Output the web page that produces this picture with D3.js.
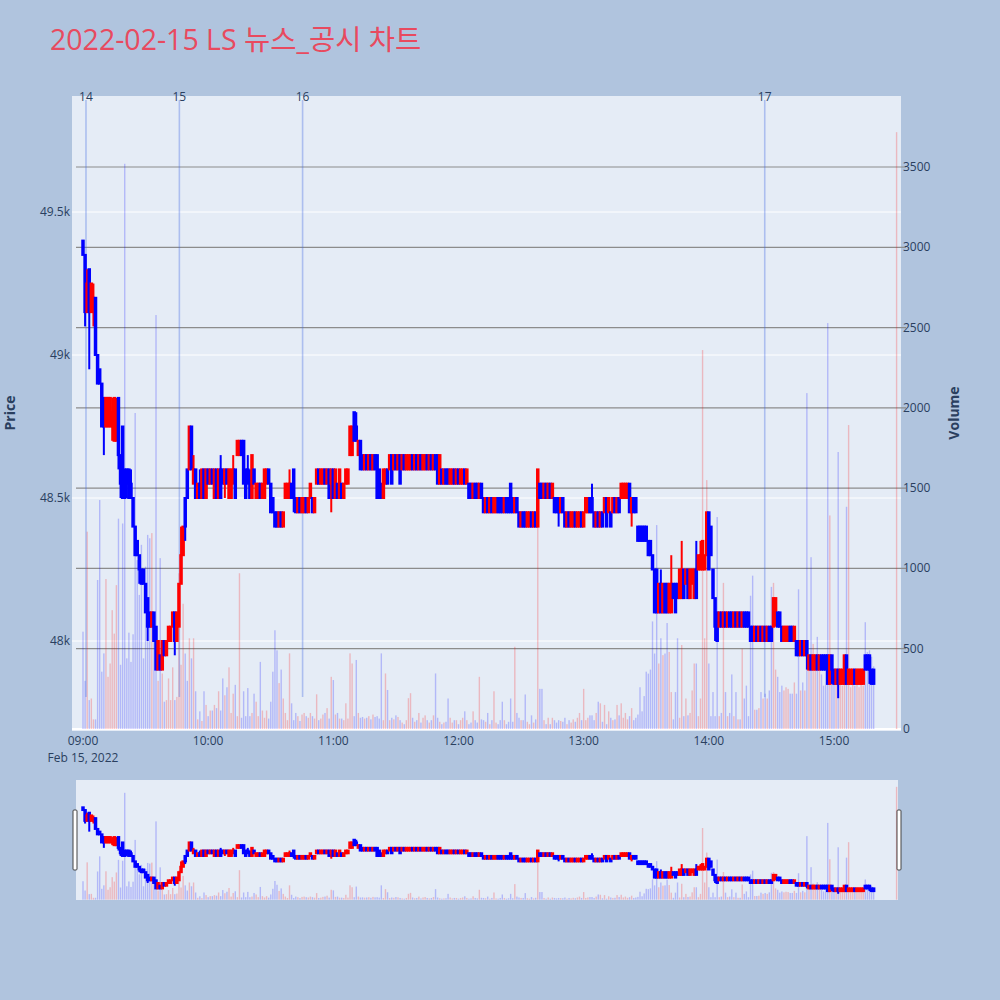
<!DOCTYPE html>
<html><head><meta charset="utf-8">
<script src="https://cdn.jsdelivr.net/npm/d3@7"></script>
<style>
body{margin:0;background:#b0c4de;}
svg{display:block;font-family:"Open Sans","Noto Sans CJK KR",sans-serif;}
</style></head>
<body><svg id="chart" width="1000" height="1000"></svg>
<script>
// ---------------- DATA ----------------
const titleText = "2022-02-15 LS 뉴스_공시 차트";
const sessionStart = "09:00:00";           // one candle per minute from here
// [open, high, low, close] per minute, 09:00 .. 15:19
const ohlc = [
/*0*/ [49400,49400,49350,49350],[49350,49350,49100,49150],[49150,49300,49150,49250],[49300,49300,48950,49150],[49150,49250,49150,49250],
[49150,49250,49100,49200],[49200,49200,49000,49000],[49000,49000,48900,48900],[48950,48950,48900,48900],[48900,48900,48750,48750],
/*10*/ [48850,48850,48650,48750],[48750,48850,48750,48850],[48750,48850,48750,48850],[48750,48850,48750,48850],[48750,48850,48700,48800],
[48700,48850,48700,48850],[48700,48850,48700,48800],[48850,48850,48600,48650],[48650,48650,48500,48550],[48750,48750,48500,48500],
/*20*/ [48600,48600,48500,48500],[48600,48600,48500,48550],[48600,48600,48500,48500],[48550,48600,48500,48500],[48500,48500,48400,48400],
[48400,48400,48300,48300],[48350,48350,48300,48300],[48300,48300,48200,48250],[48250,48250,48200,48200],[48250,48250,48200,48200],
/*30*/ [48200,48200,48100,48100],[48150,48150,48000,48050],[48100,48100,48050,48050],[48050,48100,48050,48100],[48100,48100,48000,48000],
[48050,48050,47900,47900],[47900,48000,47900,48000],[47950,47950,47900,47900],[47900,48000,47900,48000],[48000,48000,47950,47950],
/*40*/ [47950,48000,47950,48000],[48000,48050,48000,48050],[48000,48050,48000,48050],[48050,48100,48050,48100],[48100,48100,47950,48000],
[48000,48100,48000,48100],[48050,48200,48050,48200],[48200,48400,48200,48300],[48300,48400,48300,48400],[48500,48500,48350,48400],
/*50*/ [48600,48600,48500,48500],[48600,48750,48600,48750],[48750,48750,48600,48600],[48550,48650,48550,48600],[48600,48600,48500,48500],
[48500,48550,48500,48550],[48550,48600,48500,48500],[48500,48600,48500,48600],[48600,48600,48500,48500],[48500,48600,48500,48600],
/*60*/ [48600,48600,48550,48550],[48550,48600,48550,48600],[48600,48600,48550,48550],[48500,48600,48500,48600],[48600,48600,48500,48500],
[48500,48600,48500,48600],[48600,48650,48500,48500],[48600,48600,48550,48550],[48550,48600,48500,48600],[48600,48600,48550,48550],
/*70*/ [48500,48600,48500,48600],[48500,48600,48500,48600],[48550,48650,48550,48600],[48600,48600,48500,48500],[48650,48700,48650,48700],
[48650,48700,48650,48700],[48700,48700,48650,48650],[48700,48700,48550,48550],[48600,48600,48500,48500],[48600,48650,48550,48550],
/*80*/ [48550,48600,48500,48500],[48500,48650,48500,48650],[48600,48600,48550,48550],[48500,48550,48500,48550],[48500,48550,48500,48550],
[48550,48550,48500,48500],[48500,48550,48500,48550],[48500,48600,48500,48600],[48550,48600,48550,48600],[48600,48600,48550,48550],
/*90*/ [48550,48550,48450,48450],[48500,48500,48450,48450],[48450,48450,48400,48400],[48450,48450,48400,48400],[48400,48450,48400,48450],
[48450,48450,48400,48400],[48400,48450,48400,48450],[48500,48550,48500,48550],[48500,48550,48500,48550],[48500,48600,48500,48550],
/*100*/ [48550,48550,48500,48500],[48600,48600,48450,48500],[48500,48500,48450,48450],[48450,48500,48450,48500],[48500,48500,48450,48450],
[48450,48500,48450,48500],[48450,48500,48450,48500],[48500,48500,48450,48450],[48450,48500,48450,48500],[48500,48550,48500,48550],
/*110*/ [48500,48500,48450,48450],[48450,48500,48450,48500],[48550,48600,48550,48600],[48600,48600,48550,48550],[48550,48600,48550,48600],
[48550,48600,48550,48600],[48600,48600,48550,48550],[48550,48600,48550,48600],[48600,48600,48500,48500],[48550,48600,48450,48600],
/*120*/ [48600,48600,48500,48500],[48500,48600,48500,48600],[48550,48550,48500,48500],[48500,48600,48500,48600],[48550,48550,48500,48500],
[48500,48550,48500,48550],[48550,48600,48550,48600],[48550,48600,48550,48600],[48650,48750,48650,48750],[48650,48750,48650,48750],
/*130*/ [48800,48800,48700,48700],[48750,48800,48700,48700],[48650,48700,48650,48700],[48700,48700,48600,48600],[48650,48650,48600,48600],
[48600,48650,48600,48650],[48650,48650,48600,48600],[48600,48650,48600,48650],[48650,48650,48600,48600],[48600,48650,48600,48650],
/*140*/ [48650,48650,48600,48600],[48650,48650,48500,48500],[48600,48600,48500,48500],[48550,48550,48500,48500],[48500,48600,48500,48600],
[48550,48600,48550,48600],[48600,48600,48550,48550],[48600,48650,48600,48650],[48650,48650,48550,48550],[48600,48650,48600,48650],
/*150*/ [48650,48650,48600,48600],[48600,48650,48600,48650],[48650,48650,48550,48550],[48600,48650,48600,48650],[48650,48650,48600,48600],
[48600,48650,48600,48650],[48600,48650,48600,48650],[48600,48650,48600,48650],[48650,48650,48600,48600],[48600,48650,48600,48650],
/*160*/ [48650,48650,48600,48600],[48600,48650,48600,48650],[48650,48650,48600,48600],[48600,48650,48600,48650],[48600,48650,48600,48650],
[48650,48650,48600,48600],[48600,48650,48600,48650],[48650,48650,48600,48600],[48600,48650,48600,48650],[48650,48650,48600,48600],
/*170*/ [48650,48650,48550,48550],[48550,48650,48550,48650],[48600,48600,48550,48550],[48550,48600,48550,48600],[48600,48600,48550,48550],
[48600,48600,48550,48550],[48550,48600,48550,48600],[48550,48600,48550,48600],[48600,48600,48550,48550],[48550,48600,48550,48600],
/*180*/ [48600,48600,48550,48550],[48550,48600,48550,48600],[48550,48600,48550,48600],[48600,48600,48550,48550],[48550,48600,48550,48600],
[48550,48550,48500,48500],[48550,48550,48500,48500],[48500,48550,48500,48550],[48550,48550,48500,48500],[48550,48550,48500,48500],
/*190*/ [48500,48550,48500,48550],[48550,48550,48500,48500],[48500,48500,48450,48450],[48450,48500,48450,48500],[48500,48500,48450,48450],
[48450,48500,48450,48500],[48500,48500,48450,48450],[48450,48500,48450,48500],[48450,48500,48450,48500],[48500,48500,48450,48450],
/*200*/ [48500,48500,48450,48450],[48500,48500,48450,48450],[48450,48500,48450,48500],[48500,48500,48450,48450],[48500,48500,48450,48450],
[48550,48550,48450,48450],[48500,48500,48450,48450],[48450,48500,48450,48500],[48500,48500,48450,48450],[48450,48450,48400,48400],
/*210*/ [48400,48450,48400,48450],[48450,48450,48400,48400],[48450,48450,48400,48400],[48400,48450,48400,48450],[48400,48450,48400,48450],
[48450,48450,48400,48400],[48400,48450,48400,48450],[48450,48450,48400,48400],[48400,48600,48400,48600],[48550,48550,48500,48500],
/*220*/ [48550,48550,48500,48500],[48500,48550,48500,48550],[48550,48550,48500,48500],[48500,48550,48500,48550],[48550,48550,48500,48500],
[48500,48550,48500,48550],[48500,48500,48450,48450],[48500,48500,48450,48450],[48500,48500,48400,48450],[48450,48500,48450,48500],
/*230*/ [48500,48500,48450,48450],[48450,48450,48400,48400],[48400,48450,48400,48450],[48450,48450,48400,48400],[48400,48450,48400,48450],
[48400,48450,48400,48450],[48450,48450,48400,48400],[48400,48450,48400,48450],[48400,48450,48400,48450],[48450,48450,48400,48400],
/*240*/ [48400,48450,48400,48450],[48450,48500,48450,48500],[48450,48500,48450,48500],[48500,48500,48450,48450],[48500,48550,48450,48450],
[48450,48450,48400,48400],[48400,48450,48400,48450],[48450,48450,48400,48400],[48400,48450,48400,48450],[48450,48450,48400,48400],
/*250*/ [48450,48500,48450,48500],[48500,48500,48400,48400],[48450,48500,48450,48500],[48450,48450,48400,48400],[48450,48500,48450,48500],
[48500,48500,48450,48450],[48450,48500,48450,48500],[48500,48500,48450,48450],[48500,48550,48500,48550],[48500,48550,48500,48550],
/*260*/ [48500,48550,48500,48550],[48500,48550,48500,48550],[48550,48550,48450,48450],[48450,48500,48400,48500],[48500,48500,48450,48450],
[48500,48500,48450,48450],[48400,48400,48350,48350],[48400,48400,48350,48350],[48400,48400,48350,48350],[48400,48400,48350,48350],
/*270*/ [48400,48400,48350,48350],[48350,48350,48300,48300],[48350,48350,48300,48300],[48300,48300,48250,48250],[48250,48250,48100,48100],
[48250,48250,48100,48100],[48100,48200,48100,48200],[48200,48250,48100,48100],[48100,48200,48100,48200],[48200,48200,48100,48100],
/*280*/ [48200,48200,48100,48100],[48100,48200,48100,48200],[48100,48300,48100,48200],[48200,48200,48150,48150],[48200,48200,48100,48100],
[48200,48200,48150,48150],[48150,48250,48150,48250],[48150,48350,48150,48250],[48250,48250,48150,48150],[48200,48250,48200,48250],
/*290*/ [48250,48250,48150,48150],[48150,48250,48150,48250],[48200,48250,48200,48250],[48150,48250,48150,48250],[48250,48350,48150,48150],
[48250,48300,48250,48300],[48250,48350,48250,48300],[48250,48350,48250,48350],[48250,48300,48250,48300],[48300,48450,48300,48450],
/*300*/ [48450,48450,48250,48250],[48400,48400,48300,48300],[48250,48250,48150,48150],[48150,48150,48000,48050],[48100,48100,48000,48000],
[48050,48100,48050,48100],[48100,48100,48050,48050],[48050,48100,48050,48100],[48100,48100,48050,48050],[48050,48100,48050,48100],
/*310*/ [48100,48100,48050,48050],[48100,48100,48050,48050],[48050,48100,48050,48100],[48100,48100,48050,48050],[48050,48100,48050,48100],
[48100,48100,48050,48050],[48050,48100,48050,48100],[48100,48100,48050,48050],[48100,48100,48050,48050],[48100,48100,48050,48050],
/*320*/ [48050,48050,48000,48000],[48050,48050,48000,48000],[48000,48050,48000,48050],[48050,48050,48000,48000],[48000,48050,48000,48050],
[48050,48050,48000,48000],[48000,48050,48000,48050],[48050,48050,48000,48000],[48000,48050,48000,48050],[48050,48050,48000,48000],
/*330*/ [48050,48050,48000,48000],[48050,48150,48050,48150],[48100,48150,48050,48150],[48100,48100,48050,48050],[48100,48100,48050,48050],
[48050,48050,48000,48000],[48000,48050,48000,48050],[48000,48050,48000,48050],[48000,48050,48000,48050],[48050,48050,48000,48000],
/*340*/ [48050,48050,48000,48000],[48000,48050,48000,48050],[48000,48000,47950,47950],[48000,48000,47950,47950],[47950,48000,47950,48000],
[48000,48000,47950,47950],[47950,48000,47950,48000],[48000,48000,47900,47950],[47900,47950,47900,47950],[47950,47950,47900,47900],
/*350*/ [47900,47950,47900,47950],[47900,47950,47900,47950],[47950,47950,47900,47900],[47900,47950,47900,47950],[47950,47950,47900,47900],
[47950,47950,47900,47900],[47950,47950,47900,47900],[47950,47950,47850,47850],[47850,47950,47850,47950],[47950,47950,47850,47900],
/*360*/ [47900,47900,47850,47850],[47850,47900,47850,47900],[47900,47900,47800,47850],[47850,47900,47850,47900],[47850,47900,47850,47900],
[47850,47950,47850,47950],[47950,47950,47850,47850],[47850,47900,47850,47900],[47850,47900,47850,47900],[47850,47900,47850,47900],
/*370*/ [47900,47900,47850,47850],[47850,47900,47850,47900],[47850,47900,47850,47900],[47850,47900,47850,47900],[47850,47900,47850,47900],
[47950,47950,47900,47900],[47950,47950,47900,47900],[47950,47950,47850,47900],[47900,47900,47850,47850],[47900,47900,47850,47850]
];
const volumes = [
/*0*/ 606,300,1229,180,190,60,60,928,1426,357,
/*10*/ 471,934,325,408,740,594,896,1310,400,1280,
/*20*/ 3520,440,600,418,590,1968,1052,835,1147,440,
/*30*/ 1011,1209,1188,1220,554,2578,300,1064,346,170,
/*40*/ 180,315,180,384,180,200,970,400,780,470,
/*50*/ 300,565,440,565,235,60,110,50,235,150,
/*60*/ 80,115,115,150,130,235,115,315,210,260,
/*70*/ 384,100,220,275,80,970,70,235,80,255,
/*80*/ 80,100,220,170,80,418,115,70,115,65,
/*90*/ 170,357,615,490,286,370,190,100,55,471,
/*100*/ 160,55,100,80,50,90,100,80,70,100,
/*110*/ 80,65,216,55,65,90,100,130,65,325,
/*120*/ 305,90,100,65,65,55,160,65,471,408,
/*130*/ 80,430,100,70,75,65,70,80,60,90,
/*140*/ 75,80,65,471,55,346,243,55,70,60,
/*150*/ 85,75,55,40,30,55,192,223,70,45,
/*160*/ 55,100,40,70,85,55,40,55,85,346,
/*170*/ 70,45,30,40,45,190,70,40,55,55,
/*180*/ 30,55,70,110,55,30,40,110,55,40,
/*190*/ 325,60,55,45,100,30,55,235,40,30,
/*200*/ 55,170,55,30,45,190,45,512,100,70,
/*210*/ 55,55,215,45,30,85,40,60,1620,250,
/*220*/ 250,55,30,70,30,70,55,40,55,50,
/*230*/ 45,70,30,55,40,60,45,70,100,55,
/*240*/ 250,55,70,85,85,55,100,170,160,45,
/*250*/ 150,30,110,70,55,60,150,85,160,70,
/*260*/ 100,60,80,130,55,70,90,260,110,205,
/*270*/ 357,345,370,670,470,1270,408,565,460,470,
/*280*/ 660,480,230,60,230,565,70,523,80,190,
/*290*/ 85,100,240,408,408,80,190,2360,565,1550,
/*300*/ 408,80,230,80,1320,80,100,910,230,80,
/*310*/ 100,340,80,230,60,60,500,190,270,80,
/*320*/ 830,955,120,120,130,230,190,220,190,240,
/*330*/ 885,910,370,325,230,270,240,260,250,220,
/*340*/ 220,290,220,870,240,290,240,2092,400,1070,
/*350*/ 530,370,574,380,340,270,400,2528,1330,370,
/*360*/ 350,350,1725,350,270,290,1384,1893,260,310,
/*370*/ 270,320,260,340,270,665,480,490,450,390
];
// closing auction (15:30)
const auctionTime = "15:30:00";
const auctionOHLC = [47900,47900,47900,47900];
const auctionVolume = 3717;
// news / disclosure markers
const newsTimes  = ["09:01:26","09:46:12","10:45:16","14:26:48"];
const newsLabels = ["14","15","16","17"];
// axes
const timeTicks = ["09:00","10:00","11:00","12:00","13:00","14:00","15:00"];
const dateLabel = "Feb 15, 2022";
const priceTicks = [48000,48500,49000,49500];
const priceTickLabels = ["48k","48.5k","49k","49.5k"];
const volumeTicks = [0,500,1000,1500,2000,2500,3000,3500];

// ---------------- DRAW ----------------
const parse = d3.timeParse("%H:%M:%S");
const t0 = parse(sessionStart);
const candles = ohlc.map((d,i)=>({t:d3.timeMinute.offset(t0,i),o:d[0],h:d[1],l:d[2],c:d[3],v:volumes[i]}));
candles.push({t:parse(auctionTime),o:auctionOHLC[0],h:auctionOHLC[1],l:auctionOHLC[2],c:auctionOHLC[3],v:auctionVolume});
candles.forEach((d,i)=>{
  if (d.c>d.o) d.up=true; else if (d.c<d.o) d.up=false;
  else d.up = i>0 ? d.c>candles[i-1].c : false;
});

const RED="#ff0000", BLUE="#0000ff";
const svg=d3.select("#chart");
const txt="#2a3f5f";

// main plot geometry
const P={left:72,right:901,top:96,bottom:731};
const x=d3.scaleTime().domain([parse("09:00:00"),parse("15:00:00")]).range([83,834]);
const y=d3.scaleLinear().domain([48000,49500]).range([641,212]);
const yv=d3.scaleLinear().domain([0,3500]).range([729,167]);

svg.append("rect").attr("x",0).attr("y",0).attr("width",1000).attr("height",1000).attr("fill","#b0c4de");
svg.append("text").attr("x",50).attr("y",50).attr("font-size",28.5).attr("fill","#e84a5f").text(titleText);

svg.append("rect").attr("x",P.left).attr("y",P.top).attr("width",P.right-P.left).attr("height",P.bottom-P.top).attr("fill","#e5ecf6");

// price grid (white)
svg.append("g").selectAll("line").data(priceTicks).join("line")
  .attr("x1",P.left).attr("x2",P.right).attr("y1",d=>y(d)).attr("y2",d=>y(d))
  .attr("stroke","#fff").attr("stroke-width",1);
svg.append("line").attr("x1",P.left).attr("x2",P.right).attr("y1",yv(0)).attr("y2",yv(0)).attr("stroke","#fff").attr("stroke-width",2);
// volume grid (gray) with outside ticks
svg.append("g").selectAll("line").data(volumeTicks.filter(d=>d>0)).join("line")
  .attr("x1",76).attr("x2",906).attr("y1",d=>yv(d)).attr("y2",d=>yv(d))
  .attr("stroke","#8c8c8c").attr("stroke-width",1.2);

// volume bars
function drawVolume(g, xs, ys, w){
  g.selectAll("rect").data(candles).join("rect")
    .attr("x",d=>xs(d.t)-w/2).attr("width",w)
    .attr("y",d=>ys(d.v)).attr("height",d=>ys(0)-ys(d.v))
    .attr("fill",d=>d.up?"rgba(255,0,0,0.22)":"rgba(0,0,255,0.22)");
}
drawVolume(svg.append("g"), x, yv, 1.4);

// news lines
const gNews=svg.append("g");
newsTimes.forEach((s,i)=>{
  const xx=x(parse(s));
  gNews.append("line").attr("x1",xx).attr("x2",xx).attr("y1",100).attr("y2",697)
    .attr("stroke","rgba(65,105,225,0.35)").attr("stroke-width",1.6);
  gNews.append("text").attr("x",xx).attr("y",101).attr("text-anchor","middle")
    .attr("font-size",12).attr("fill",txt).text(newsLabels[i]);
});

// candles
function drawCandles(g, xs, ys, bw, sw){
  const gg=g.selectAll("g").data(candles).join("g");
  gg.append("line").attr("x1",d=>xs(d.t)).attr("x2",d=>xs(d.t))
    .attr("y1",d=>ys(d.h)).attr("y2",d=>ys(d.l))
    .attr("stroke",d=>d.up?RED:BLUE).attr("stroke-width",sw);
  gg.append("rect").attr("x",d=>xs(d.t)-bw/2).attr("width",bw)
    .attr("y",d=>ys(Math.max(d.o,d.c))).attr("height",d=>Math.abs(ys(d.o)-ys(d.c)))
    .attr("fill",d=>d.up?RED:BLUE).attr("stroke",d=>d.up?RED:BLUE).attr("stroke-width",sw);
}
drawCandles(svg.append("g"), x, y, 1.5, 2);

// axis labels
svg.append("g").selectAll("text").data(priceTicks).join("text")
  .attr("x",70).attr("y",d=>y(d)+4).attr("text-anchor","end").attr("font-size",12).attr("fill",txt)
  .text((d,i)=>priceTickLabels[i]);
svg.append("g").selectAll("text").data(volumeTicks).join("text")
  .attr("x",903).attr("y",d=>yv(d)+4).attr("font-size",12).attr("fill",txt).text(d=>d);
svg.append("g").selectAll("text").data(timeTicks).join("text")
  .attr("x",d=>x(parse(d+":00"))).attr("y",745).attr("text-anchor","middle").attr("font-size",12).attr("fill",txt).text(d=>d);
svg.append("text").attr("x",x(parse("09:00:00"))).attr("y",762).attr("text-anchor","middle").attr("font-size",12).attr("fill",txt).text(dateLabel);

svg.append("text").attr("transform","translate(15,413) rotate(-90)").attr("text-anchor","middle")
  .attr("font-size",14).attr("font-weight","bold").attr("fill",txt).text("Price");
svg.append("text").attr("transform","translate(959,413) rotate(-90)").attr("text-anchor","middle")
  .attr("font-size",14).attr("font-weight","bold").attr("fill",txt).text("Volume");

// range slider
const R={left:76,right:898,top:780,bottom:900};
svg.append("rect").attr("x",R.left).attr("y",R.top).attr("width",R.right-R.left).attr("height",R.bottom-R.top).attr("fill","#e5ecf6");
const ys=d3.scaleLinear().domain([y.invert(P.bottom),y.invert(P.top)]).range([R.bottom,R.top]);
const yvs=d3.scaleLinear().domain([yv.invert(P.bottom),yv.invert(P.top)]).range([R.bottom,R.top]);
const gs=svg.append("g");
gs.append("clipPath").attr("id","rsclip").append("rect").attr("x",R.left).attr("y",R.top).attr("width",R.right-R.left).attr("height",R.bottom-R.top);
const gsIn=gs.append("g").attr("clip-path","url(#rsclip)");
drawVolume(gsIn.append("g"), x, yvs, 1.4);
drawCandles(gsIn.append("g"), x, ys, 1.5, 2);
[R.left-3, R.right-1].forEach(hx=>{
  svg.append("rect").attr("x",hx).attr("y",810).attr("width",4).attr("height",60)
    .attr("fill","#fff").attr("stroke","#444").attr("stroke-width",1).attr("rx",1);
});
</script>
</body></html>
